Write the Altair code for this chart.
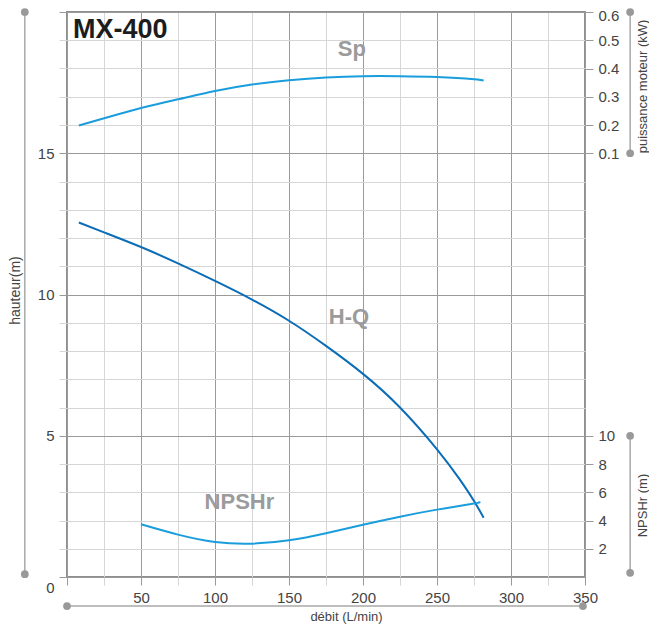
import altair as alt
import pandas as pd

# ---- data ----
Q_HQ = [8, 25, 50, 75, 100, 125, 150, 175, 200, 225, 250, 265, 275, 281.5]
H_HQ = [12.55, 12.2, 11.68, 11.1, 10.48, 9.82, 9.07, 8.18, 7.19, 6.0, 4.52, 3.48, 2.69, 2.1]

Q_SP = [8, 50, 75, 100, 125, 150, 175, 200, 225, 250, 275, 281.5]
P_SP = [0.198, 0.26, 0.291, 0.320, 0.343, 0.358, 0.368, 0.373, 0.373, 0.370, 0.362, 0.357]

Q_NP = [50, 75, 100, 125, 150, 175, 200, 225, 250, 275, 278]
NP_NP = [3.73, 3.0, 2.48, 2.36, 2.6, 3.1, 3.7, 4.27, 4.77, 5.2, 5.3]

X_TICKS = list(range(0, 351, 25))
H_TICKS = list(range(0, 21))
P_TICKS = [0.1, 0.2, 0.3, 0.4, 0.5, 0.6]
NP_TICKS = [2, 4, 6, 8, 10]

CURVE_LABELS = ["Sp", "H-Q", "NPSHr"]
CURVE_LABEL_Q = [192.5, 190.5, 116.5]
CURVE_LABEL_H = [18.7, 9.2, 2.65]

TITLE = "MX-400"

FONT = "Liberation Sans"
DARK = "#9a9a9a"
LIGHT = "#d6d6d6"
BLUE_DARK = "#0b6db6"
BLUE_LIGHT = "#1a9ddc"
DECO = "#a8a8a8"

hq = pd.DataFrame({"q": Q_HQ, "h": H_HQ})
sp = pd.DataFrame({"q": Q_SP, "p": P_SP})
npsh = pd.DataFrame({"q": Q_NP, "n": NP_NP})
labels = pd.DataFrame({"q": CURVE_LABEL_Q, "h": CURVE_LABEL_H, "t": CURVE_LABELS})
title_df = pd.DataFrame({"q": [4], "h": [19.36], "t": [TITLE]})

# decorative axis lines (in data units of their scales)
DL = -28.5     # left decorative line position (flow units)
DR = 380.5     # right decorative line position (flow units)
DB = -1.03     # bottom decorative line position (hauteur units)
deco_h = pd.DataFrame({"q": [DL, 0], "q2": [DL, 348.6], "h": [0.1, DB], "h2": [20, DB]})
deco_h_pts = pd.DataFrame({"q": [DL, DL, 0, 348.6], "h": [0.1, 20, DB, DB]})
deco_p = pd.DataFrame({"q": [DR], "p": [0.1], "p2": [0.6]})
deco_p_pts = pd.DataFrame({"q": [DR, DR], "p": [0.1, 0.6]})
deco_n = pd.DataFrame({"q": [DR], "n": [0.3], "n2": [10]})
deco_n_pts = pd.DataFrame({"q": [DR, DR], "n": [0.3, 10]})

X = alt.X(
    "q:Q",
    scale=alt.Scale(domain=[0, 350], nice=False, zero=False),
    axis=alt.Axis(
        values=X_TICKS,
        labelExpr="datum.value % 50 == 0 && datum.value > 0 ? datum.label : ''",
        labelFlush=False,
        grid=True,
        gridColor={"condition": {"test": "datum.value % 50 == 0", "value": DARK}, "value": LIGHT},
        tickColor={"condition": {"test": "datum.value % 50 == 0", "value": DARK}, "value": LIGHT},
        tickSize=8,
        labelPadding=5,
        title="débit (L/min)",
        titleX=279,
        titleY=46,
        titleFontSize=13,
        titleBaseline="bottom",
    ),
)

YH = alt.Y(
    "h:Q",
    scale=alt.Scale(domain=[0, 20], nice=False, zero=False),
    axis=alt.Axis(
        values=H_TICKS,
        labelExpr="datum.value % 5 == 0 && datum.value < 20 ? datum.label : ''",
        labelFlush=False,
        grid=True,
        gridColor={"condition": {"test": "datum.value % 5 == 0", "value": DARK}, "value": LIGHT},
        tickColor={"condition": {"test": "datum.value % 5 == 0", "value": DARK}, "value": LIGHT},
        labelOffset={"condition": {"test": "datum.value == 0", "value": 10}, "value": 0},
        tickSize=8,
        labelPadding=5,
        title="hauteur(m)",
        titleX=-52,
        titleY=278,
        titleBaseline="middle",
    ),
)

YP = alt.Y(
    "p:Q",
    scale=alt.Scale(domain=[-1.4, 0.6], nice=False, zero=False),
    axis=alt.Axis(
        orient="right",
        values=P_TICKS,
        format=".1f",
        labelFlush=False,
        labelOffset={"condition": {"test": "datum.value > 0.55", "value": 3}, "value": 0},
        grid=False,
        tickColor=DARK,
        tickSize=8,
        labelPadding=5,
        title="puissance moteur (kW)",
        titleAngle=270,
        titleX=57,
        titleY=74,
        titleFontSize=13,
        titleBaseline="middle",
    ),
)

YN = alt.Y(
    "n:Q",
    scale=alt.Scale(domain=[0, 40], nice=False, zero=False),
    axis=alt.Axis(
        orient="right",
        values=NP_TICKS,
        format="d",
        labelFlush=False,
        grid=False,
        tickColor=DARK,
        tickSize=8,
        labelPadding=5,
        title="NPSHr (m)",
        titleAngle=270,
        titleX=57,
        titleY=493,
        titleFontSize=13,
        titleBaseline="middle",
    ),
)

# ---- hauteur layer ----
hq_line = alt.Chart(hq).mark_line(color=BLUE_DARK, strokeWidth=2, interpolate="natural").encode(x=X, y=YH)
deco_h_rule = alt.Chart(deco_h).mark_rule(color=DECO, strokeWidth=1.5).encode(
    x=X, x2=alt.X2("q2"), y=YH, y2=alt.Y2("h2"))
deco_h_dot = alt.Chart(deco_h_pts).mark_circle(color="#999999", size=60, opacity=1).encode(x=X, y=YH)
curve_text = alt.Chart(labels).mark_text(
    font=FONT, fontSize=22, fontWeight="bold", color="#9b9b9b", align="center", baseline="middle"
).encode(x=X, y=YH, text="t:N")
title_text = alt.Chart(title_df).mark_text(
    font=FONT, fontSize=27, fontWeight="bold", color="#1c1c1c", align="left", baseline="middle"
).encode(x=X, y=YH, text="t:N")
layer_h = alt.layer(deco_h_rule, deco_h_dot, hq_line, curve_text, title_text)

# ---- power layer ----
sp_line = alt.Chart(sp).mark_line(color=BLUE_LIGHT, strokeWidth=2, interpolate="natural").encode(x=X, y=YP)
deco_p_rule = alt.Chart(deco_p).mark_rule(color=DECO, strokeWidth=1.5).encode(x=X, y=YP, y2=alt.Y2("p2"))
deco_p_dot = alt.Chart(deco_p_pts).mark_circle(color="#999999", size=60, opacity=1).encode(x=X, y=YP)
layer_p = alt.layer(deco_p_rule, deco_p_dot, sp_line)

# ---- NPSHr layer ----
np_line = alt.Chart(npsh).mark_line(color=BLUE_LIGHT, strokeWidth=2, interpolate="natural").encode(x=X, y=YN)
deco_n_rule = alt.Chart(deco_n).mark_rule(color=DECO, strokeWidth=1.5).encode(x=X, y=YN, y2=alt.Y2("n2"))
deco_n_dot = alt.Chart(deco_n_pts).mark_circle(color="#999999", size=60, opacity=1).encode(x=X, y=YN)
layer_n = alt.layer(deco_n_rule, deco_n_dot, np_line)

chart = (
    alt.layer(layer_h, layer_p, layer_n)
    .resolve_scale(y="independent")
    .properties(
        width=518,
        height=565,
        autosize=alt.AutoSizeParams(type="none"),
        padding={"left": 59, "top": 4, "right": 64, "bottom": 47},
    )
    .configure_view(stroke="#8f8f8f", strokeWidth=2)
    .configure_axis(
        domain=False,
        labelFont=FONT,
        labelFontSize=15,
        labelColor="#444444",
        titleFont=FONT,
        titleFontSize=14,
        titleFontWeight="normal",
        titleColor="#444444",
    )
)

chart.save("out.html", embed_options={"renderer": "svg", "actions": False})
